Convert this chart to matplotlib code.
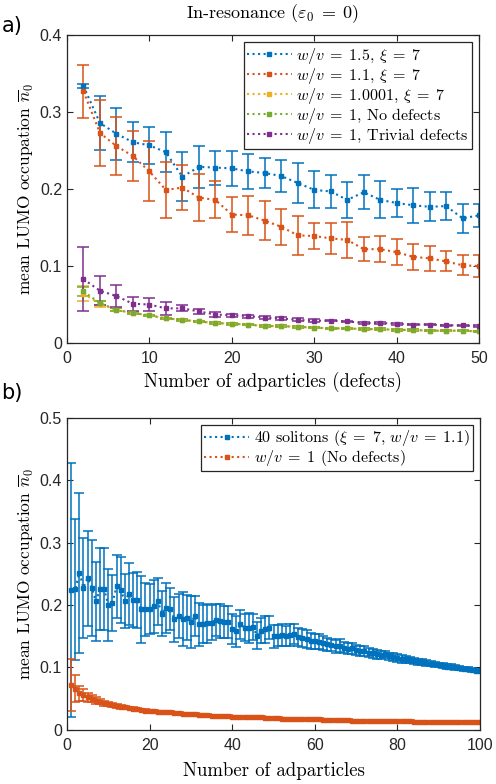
import matplotlib
matplotlib.use("Agg")
import matplotlib.pyplot as plt
from matplotlib.lines import Line2D

# ---------------- data: panel a ----------------
x_a = list(range(2, 51, 2))
blue_a = [0.334, 0.286, 0.272, 0.261, 0.257, 0.248, 0.216, 0.229, 0.228, 0.227, 0.223, 0.221, 0.217,
          0.208, 0.199, 0.197, 0.186, 0.196, 0.186, 0.182, 0.179, 0.177, 0.178, 0.162, 0.166]
blue_a_err = [0.003, 0.035, 0.034, 0.026, 0.024, 0.026, 0.032, 0.027, 0.022, 0.023, 0.023, 0.020, 0.021,
              0.026, 0.024, 0.022, 0.023, 0.022, 0.024, 0.018, 0.023, 0.019, 0.018, 0.019, 0.015]
orange_a = [0.327, 0.273, 0.256, 0.243, 0.223, 0.199, 0.202, 0.189, 0.186, 0.167, 0.166, 0.159, 0.151,
            0.140, 0.139, 0.136, 0.134, 0.122, 0.122, 0.118, 0.112, 0.110, 0.106, 0.101, 0.100]
orange_a_err = [0.035, 0.043, 0.038, 0.032, 0.039, 0.036, 0.029, 0.031, 0.024, 0.023, 0.025, 0.025, 0.023,
                0.025, 0.017, 0.020, 0.023, 0.016, 0.017, 0.017, 0.017, 0.016, 0.013, 0.013, 0.014]
yellow_a = [0.064, 0.051, 0.043, 0.039, 0.036, 0.032, 0.030, 0.028, 0.026, 0.025, 0.024, 0.022, 0.022,
            0.021, 0.020, 0.019, 0.019, 0.018, 0.018, 0.017, 0.017, 0.016, 0.016, 0.016, 0.015]
yellow_a_err = [0.010, 0.004, 0.002, 0.001, 0.001, 0.001, 0.001, 0.001, 0.001, 0.001, 0.001, 0.001, 0.001,
                0.001, 0.001, 0.001, 0.001, 0.001, 0.001, 0.001, 0.001, 0.001, 0.001, 0.001, 0.001]
green_a = [0.067, 0.052, 0.043, 0.039, 0.036, 0.032, 0.030, 0.028, 0.026, 0.025, 0.024, 0.022, 0.022,
           0.021, 0.020, 0.019, 0.019, 0.018, 0.018, 0.017, 0.017, 0.016, 0.016, 0.016, 0.015]
green_a_err = [0.006, 0.003, 0.002, 0.001, 0.001, 0.001, 0.001, 0.001, 0.001, 0.001, 0.001, 0.001, 0.001,
               0.001, 0.001, 0.001, 0.001, 0.001, 0.001, 0.001, 0.001, 0.001, 0.001, 0.001, 0.001]
purple_a = [0.083, 0.068, 0.061, 0.051, 0.050, 0.045, 0.045, 0.041, 0.037, 0.036, 0.035, 0.033, 0.032,
            0.030, 0.029, 0.029, 0.028, 0.026, 0.026, 0.025, 0.024, 0.024, 0.023, 0.023, 0.022]
purple_a_err = [0.042, 0.019, 0.014, 0.009, 0.008, 0.008, 0.004, 0.003, 0.003, 0.002, 0.002, 0.002, 0.002,
                0.002, 0.002, 0.001, 0.001, 0.001, 0.001, 0.001, 0.001, 0.001, 0.001, 0.001, 0.001]
labels_a = [r"$w/v\;=\;1.5$, $\xi\;=\;7$", r"$w/v\;=\;1.1$, $\xi\;=\;7$", r"$w/v\;=\;1.0001$, $\xi\;=\;7$",
            r"$w/v\;=\;1$, No defects", r"$w/v\;=\;1$, Trivial defects"]

# ---------------- data: panel b ----------------
x_b = list(range(1, 101))
blue_b = [0.224, 0.225, 0.252, 0.228, 0.243, 0.228, 0.206, 0.226, 0.226, 0.200,
          0.203, 0.230, 0.224, 0.207, 0.218, 0.208, 0.208, 0.193, 0.193, 0.193,
          0.198, 0.206, 0.186, 0.196, 0.194, 0.177, 0.182, 0.178, 0.180, 0.173,
          0.182, 0.169, 0.170, 0.171, 0.172, 0.176, 0.174, 0.173, 0.173, 0.161,
          0.158, 0.169, 0.164, 0.163, 0.165, 0.151, 0.159, 0.161, 0.164, 0.150,
          0.151, 0.152, 0.151, 0.152, 0.154, 0.149, 0.147, 0.146, 0.143, 0.142,
          0.141, 0.139, 0.137, 0.136, 0.134, 0.135, 0.132, 0.130, 0.131, 0.128,
          0.127, 0.126, 0.124, 0.123, 0.121, 0.120, 0.121, 0.118, 0.117, 0.115,
          0.114, 0.113, 0.112, 0.110, 0.109, 0.109, 0.107, 0.106, 0.105, 0.104,
          0.103, 0.101, 0.101, 0.100, 0.099, 0.098, 0.097, 0.096, 0.095, 0.094]
blue_b_err = [0.204, 0.113, 0.128, 0.080, 0.076, 0.077, 0.063, 0.066, 0.066, 0.058,
              0.045, 0.050, 0.053, 0.043, 0.050, 0.043, 0.045, 0.053, 0.043, 0.040,
              0.042, 0.038, 0.036, 0.040, 0.034, 0.036, 0.035, 0.043, 0.036, 0.041,
              0.032, 0.034, 0.030, 0.031, 0.028, 0.026, 0.027, 0.025, 0.026, 0.024,
              0.025, 0.023, 0.022, 0.024, 0.021, 0.022, 0.020, 0.021, 0.019, 0.018,
              0.017, 0.017, 0.016, 0.018, 0.016, 0.015, 0.014, 0.014, 0.013, 0.012,
              0.012, 0.011, 0.011, 0.010, 0.010, 0.010, 0.009, 0.009, 0.009, 0.008,
              0.008, 0.008, 0.007, 0.007, 0.007, 0.007, 0.006, 0.006, 0.006, 0.006,
              0.006, 0.005, 0.005, 0.005, 0.005, 0.005, 0.005, 0.004, 0.004, 0.004,
              0.004, 0.004, 0.004, 0.004, 0.003, 0.003, 0.003, 0.003, 0.003, 0.003]
orange_b = [0.072, 0.066, 0.059, 0.056, 0.052, 0.050, 0.047, 0.045, 0.043, 0.041,
            0.040, 0.038, 0.037, 0.036, 0.035, 0.034, 0.033, 0.032, 0.031, 0.030,
            0.030, 0.029, 0.029, 0.028, 0.028, 0.027, 0.027, 0.026, 0.026, 0.025,
            0.025, 0.024, 0.024, 0.024, 0.023, 0.023, 0.023, 0.022, 0.022, 0.021,
            0.021, 0.021, 0.021, 0.020, 0.020, 0.020, 0.020, 0.019, 0.019, 0.019,
            0.019, 0.018, 0.018, 0.018, 0.018, 0.018, 0.017, 0.017, 0.017, 0.017,
            0.017, 0.016, 0.016, 0.016, 0.016, 0.016, 0.016, 0.016, 0.015, 0.015,
            0.015, 0.015, 0.015, 0.015, 0.015, 0.014, 0.014, 0.014, 0.014, 0.014,
            0.014, 0.014, 0.014, 0.013, 0.013, 0.013, 0.013, 0.013, 0.013, 0.013,
            0.013, 0.013, 0.012, 0.012, 0.012, 0.012, 0.012, 0.012, 0.012, 0.012]
orange_b_err = [0.041, 0.022, 0.012, 0.009, 0.007, 0.006, 0.005, 0.004, 0.004, 0.003,
                0.003, 0.003, 0.003, 0.002, 0.002, 0.002, 0.002, 0.002, 0.002, 0.002] + [0.0015] * 80
labels_b = [r"40 solitons ($\xi\;=\;7$, $w/v\;=\;1.1$)", r"$w/v\;=\;1$ (No defects)"]

colors = ["#0072BD", "#D95319", "#EDB120", "#77AC30", "#7E2F8E"]

plt.rcParams["mathtext.fontset"] = "cm"
plt.rcParams["font.family"] = ["Liberation Sans", "DejaVu Sans"]
serif = "cmr10"

fig = plt.figure(figsize=(4.96, 7.84), dpi=100)
ax1 = fig.add_axes([0.135, 0.5625, 0.831, 0.3925])
ax2 = fig.add_axes([0.135, 0.069, 0.833, 0.398])


def style(ax):
    ax.tick_params(direction="in", top=True, right=True, length=4, width=0.8,
                   labelsize=11.5, colors="#262626")
    ax.tick_params(axis="x", pad=6)
    for s in ax.spines.values():
        s.set_linewidth(0.9)
        s.set_color("#262626")


def proxy(c):
    return Line2D([], [], color=c, ls=":", lw=1.5, marker="s", ms=3.5)


series_a = [(blue_a, blue_a_err), (orange_a, orange_a_err), (yellow_a, yellow_a_err),
            (green_a, green_a_err), (purple_a, purple_a_err)]
for (y, e), c in zip(series_a, colors):
    ax1.errorbar(x_a, y, yerr=e, color=c, ls=":", lw=1.5, marker="s", ms=3.5,
                 capsize=4, elinewidth=1.1, capthick=1.1)
ax1.set_xlim(0, 50)
ax1.set_ylim(0, 0.4)
ax1.set_xticks([0, 10, 20, 30, 40, 50])
ax1.set_yticks([0, 0.1, 0.2, 0.3, 0.4])
ax1.set_yticklabels(["0", "0.1", "0.2", "0.3", "0.4"])
style(ax1)
ax1.set_title(r"In-resonance ($\varepsilon_0\;=\;0$)", fontsize=13, family=serif, pad=12)
ax1.set_xlabel("Number of adparticles (defects)", fontsize=13.5, family=serif, labelpad=4)
ax1.set_ylabel(r"mean LUMO occupation $\overline{n}_0$", fontsize=12.5, family=serif, labelpad=3)
leg1 = ax1.legend([proxy(c) for c in colors], labels_a, loc="upper right",
                  prop={"family": serif, "size": 11.5},
                  handlelength=2.8, handletextpad=0.3, borderpad=0.2, labelspacing=0.0,
                  fancybox=False, edgecolor="#262626", framealpha=1, borderaxespad=0.45)
leg1.get_frame().set_linewidth(0.9)

ax2.errorbar(x_b, blue_b, yerr=blue_b_err, color=colors[0], ls=":", lw=1.5, marker="s", ms=3.5,
             capsize=3.5, elinewidth=1.1, capthick=1.1)
ax2.errorbar(x_b, orange_b, yerr=orange_b_err, color=colors[1], ls=":", lw=1.5, marker="s", ms=3.5,
             capsize=3.5, elinewidth=1.1, capthick=1.1)
ax2.set_xlim(0, 100)
ax2.set_ylim(0, 0.5)
ax2.set_xticks([0, 20, 40, 60, 80, 100])
ax2.set_yticks([0, 0.1, 0.2, 0.3, 0.4, 0.5])
ax2.set_yticklabels(["0", "0.1", "0.2", "0.3", "0.4", "0.5"])
style(ax2)
ax2.set_xlabel("Number of adparticles", fontsize=13.5, family=serif, labelpad=6)
ax2.set_ylabel(r"mean LUMO occupation $\overline{n}_0$", fontsize=12.5, family=serif, labelpad=3)
leg2 = ax2.legend([proxy(colors[0]), proxy(colors[1])], labels_b, loc="upper right",
                  prop={"family": serif, "size": 11.5},
                  handlelength=2.8, handletextpad=0.3, borderpad=0.2, labelspacing=0.0,
                  fancybox=False, edgecolor="#262626", framealpha=1, borderaxespad=0.45)
leg2.get_frame().set_linewidth(0.9)

fig.text(0.003, 0.979, "a)", fontsize=15, va="top", ha="left", family="DejaVu Sans")
fig.text(0.003, 0.512, "b)", fontsize=15, va="top", ha="left", family="DejaVu Sans")

fig.savefig("out.png", dpi=100)
